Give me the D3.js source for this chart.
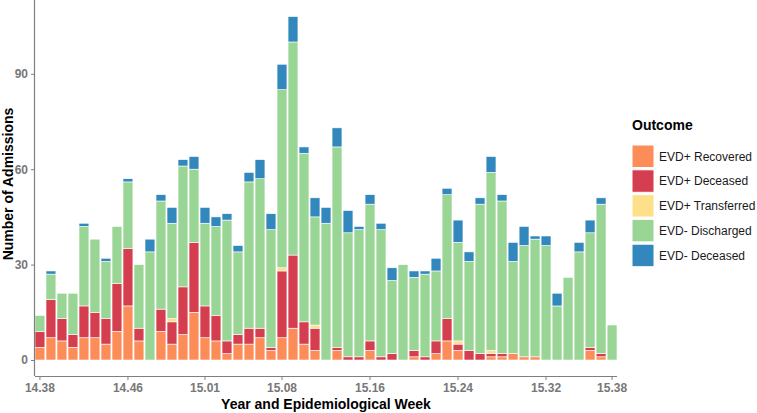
<!DOCTYPE html>
<html>
<head>
<meta charset="utf-8">
<script src="https://cdn.jsdelivr.net/npm/d3@7"></script>
<style>
  html, body { margin: 0; padding: 0; background: #fff; }
  svg { display: block; font-family: "Liberation Sans", Arial, sans-serif; }
</style>
</head>
<body>
<svg id="chart" width="757" height="413"></svg>
<script>
const weeks = ["14.38","14.39","14.40","14.41","14.42","14.43","14.44","14.45","14.46","14.47","14.48","14.49","14.50","14.51","14.52",
  "15.01","15.02","15.03","15.04","15.05","15.06","15.07","15.08","15.09","15.10","15.11","15.12","15.13","15.14","15.15","15.16",
  "15.17","15.18","15.19","15.20","15.21","15.22","15.23","15.24","15.25","15.26","15.27","15.28","15.29","15.30","15.31","15.32",
  "15.33","15.34","15.35","15.36","15.37","15.38"];
const evdPosRecovered   = [4,7,6,4,7,7,5,9,17,6,0,9,5,8,15, 7,6,2,5,5,7,3,7,10,5,3,0,3,0,0,3,0,0,0,1,0,2,6,3,0,0,1,1,2,1,1,0,0,0,0,3,1,0];
const evdPosDeceased    = [5,12,7,4,10,8,8,15,18,4,0,7,7,15,22, 10,8,4,3,5,3,1,21,23,7,7,0,1,1,1,3,1,2,0,2,1,4,7,2,3,2,1,1,0,0,0,0,0,0,0,1,1,0];
const evdPosTransferred = [0,0,0,0,0,0,0,0,0,0,0,0,1,0,0, 0,0,0,0,0,0,0,1,0,0,1,0,0,0,0,0,0,0,0,0,0,0,0,1,0,0,1,0,0,0,0,0,0,0,0,0,0,0];
const evdNegDischarged  = [5,8,8,13,25,23,18,18,21,20,34,34,30,38,23, 26,28,38,26,46,47,37,56,67,53,34,43,63,39,40,43,40,23,30,23,26,22,39,31,28,47,56,48,29,35,37,36,17,26,34,36,47,11];
const evdNegDeceased    = [0,1,0,0,1,0,1,0,1,0,4,2,5,2,4, 5,3,2,2,3,6,5,8,8,2,6,5,6,7,1,3,2,4,0,2,1,4,2,7,3,2,5,2,6,6,1,3,4,0,3,4,2,0];
const outcomes = ["EVD+ Recovered","EVD+ Deceased","EVD+ Transferred","EVD- Discharged","EVD- Deceased"];
const colors = ["#FC8D59","#D53E4F","#FEE08B","#99D594","#3288BD"];
const xTickLabels = ["14.38","14.46","15.01","15.08","15.16","15.24","15.32","15.38"];
const yTickValues = [0,30,60,90];

const series = [evdPosRecovered, evdPosDeceased, evdPosTransferred, evdNegDischarged, evdNegDeceased];
const rows = weeks.map((w, i) => {
  const r = { week: w };
  outcomes.forEach((o, k) => r[o] = series[k][i]);
  return r;
});

const svg = d3.select("#chart");
const pLeft = 35, pRight = 617, pTop = 0, pBottom = 376;

const x = d3.scaleBand().domain(weeks).range([pLeft, pRight]).paddingInner(0.1).paddingOuter(0);
const y = d3.scaleLinear().domain([-5.03, 113.2]).range([pBottom, pTop]);
const color = d3.scaleOrdinal().domain(outcomes).range(colors);

const stacked = d3.stack().keys(outcomes)(rows);

svg.append("g").selectAll("g").data(stacked).join("g")
  .attr("fill", d => color(d.key))
  .selectAll("rect").data(d => d.filter(s => s[1] - s[0] > 0)).join("rect")
  .attr("x", d => x(d.data.week))
  .attr("width", x.bandwidth())
  .attr("y", d => y(d[1]))
  .attr("height", d => y(d[0]) - y(d[1]))
  .attr("stroke", "#fff")
  .attr("stroke-width", 0.6);

// axes
const axisColor = "#7f7f7f";
const xAxis = svg.append("g").attr("transform", `translate(0,${pBottom})`)
  .call(d3.axisBottom(x).tickValues(xTickLabels).tickSize(4).tickSizeOuter(0));
xAxis.select(".domain").attr("stroke", axisColor).attr("stroke-width", 1.2).attr("d", `M${pLeft},0.5H${pRight}`);
xAxis.selectAll(".tick line").attr("stroke", axisColor);
xAxis.selectAll(".tick text").attr("fill", "#777").attr("font-size", 12).attr("font-weight", "bold")
  .attr("font-family", "Liberation Sans, Arial, sans-serif");

const yAxis = svg.append("g").attr("transform", `translate(${pLeft},0)`)
  .call(d3.axisLeft(y).tickValues(yTickValues).tickSize(4).tickSizeOuter(0));
yAxis.select(".domain").attr("stroke", axisColor).attr("stroke-width", 1.2).attr("d", `M-0.5,${pTop}V${pBottom}`);
yAxis.selectAll(".tick line").attr("stroke", axisColor);
yAxis.selectAll(".tick text").attr("fill", "#777").attr("font-size", 12).attr("font-weight", "bold")
  .attr("font-family", "Liberation Sans, Arial, sans-serif");

// axis titles
svg.append("text").attr("x", (pLeft + pRight) / 2).attr("y", 409)
  .attr("text-anchor", "middle").attr("font-size", 14).attr("font-weight", "bold").attr("fill", "#000")
  .text("Year and Epidemiological Week");
svg.append("text").attr("transform", `translate(13,184) rotate(-90)`)
  .attr("text-anchor", "middle").attr("font-size", 14).attr("font-weight", "bold").attr("fill", "#000")
  .text("Number of Admissions");

// legend
const lg = svg.append("g").attr("transform", "translate(632,0)");
lg.append("text").attr("x", 0).attr("y", 130).attr("font-size", 14).attr("font-weight", "bold").attr("fill", "#000")
  .text("Outcome");
const items = lg.selectAll("g.item").data(outcomes).join("g").attr("class", "item")
  .attr("transform", (d, i) => `translate(0,${145 + i * 24.8})`);
items.append("rect").attr("width", 22).attr("height", 22.5)
  .attr("fill", d => color(d)).attr("stroke", "#fff").attr("stroke-width", 1);
items.append("text").attr("x", 27).attr("y", 11.5).attr("dy", "0.35em")
  .attr("font-size", 12).attr("fill", "#1a1a1a").text(d => d);
</script>
</body>
</html>
